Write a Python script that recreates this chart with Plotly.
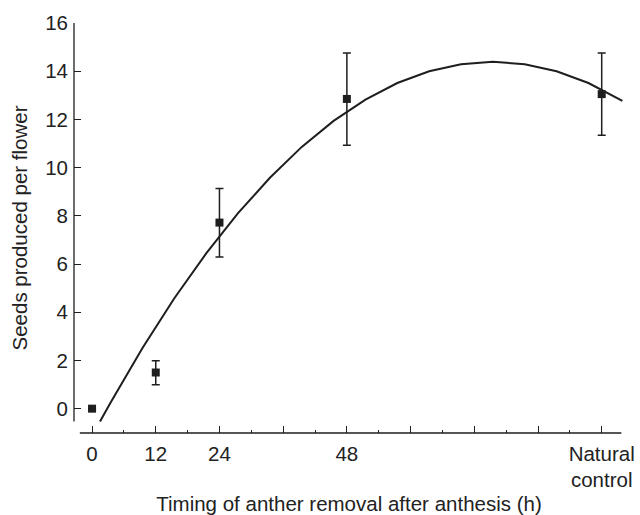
import plotly.graph_objects as go

# Data
x_pts = [0, 12, 24, 48, 96]
y_pts = [0.0, 1.5, 7.72, 12.85, 13.05]
err_up = [0.0, 0.49, 1.41, 1.91, 1.71]
err_dn = [0.0, 0.51, 1.43, 1.92, 1.71]

curve_x = [1.5, 3.5, 9.5, 15.5, 21.5, 27.5, 33.5, 39.5, 45.5, 51.5, 57.5,
           63.5, 69.5, 75.5, 81.5, 87.5, 93.5, 99.9]
curve_y = [-0.53, 0.26, 2.52, 4.58, 6.44, 8.11, 9.58, 10.86, 11.94, 12.82,
           13.51, 14.00, 14.29, 14.39, 14.29, 14.00, 13.51, 12.77]

x_tickvals = [0, 12, 24, 36, 48, 60, 72, 84, 96]
x_ticktext = ["0", "12", "24", "", "48", "", "", "", "Natural<br>control"]
y_tickvals = [0, 2, 4, 6, 8, 10, 12, 14, 16]

INK = "#1e1e1e"
FONT = "Liberation Sans, Arial, sans-serif"
FS = 20.5

fig = go.Figure()
fig.add_trace(go.Scatter(
    x=curve_x, y=curve_y, mode="lines",
    line=dict(color=INK, width=2), hoverinfo="skip", showlegend=False))
fig.add_trace(go.Scatter(
    x=x_pts, y=y_pts, mode="markers",
    marker=dict(symbol="square", size=8, color=INK),
    error_y=dict(type="data", symmetric=False, array=err_up, arrayminus=err_dn,
                 color=INK, thickness=1.5, width=4),
    showlegend=False))

fig.update_layout(
    width=640, height=515,
    margin=dict(l=74, r=16, t=23, b=82, autoexpand=False),
    plot_bgcolor="white", paper_bgcolor="white",
    font=dict(family=FONT, size=FS, color="#222"),
    xaxis=dict(
        range=[-3.4, 100.2], showgrid=False, zeroline=False, showline=False,
        automargin=False, ticklabeloverflow="allow",
        tickmode="array", tickvals=x_tickvals, ticktext=x_ticktext,
        ticks="inside", ticklen=7, tickwidth=1.3, tickcolor=INK,
        ticklabelstandoff=6,
        minor=dict(tick0=0, dtick=6, ticks="inside", ticklen=3.5,
                   tickwidth=1.3, tickcolor=INK),
        title=dict(text="Timing of anther removal after anthesis (h)",
                   standoff=16, font=dict(size=FS)),
    ),
    yaxis=dict(
        range=[-1.01, 16], showgrid=False, zeroline=False, showline=False,
        automargin=False,
        tickmode="array", tickvals=y_tickvals,
        ticks="inside", ticklen=7, tickwidth=1.3, tickcolor=INK,
        ticklabelstandoff=5,
        title=dict(text="Seeds produced per flower", standoff=12,
                   font=dict(size=FS)),
    ),
    shapes=[
        dict(type="line", xref="paper", yref="y", x0=0, x1=0, y0=-0.53, y1=16,
             line=dict(color=INK, width=1.3)),
        dict(type="line", xref="x", yref="paper", x0=-2.3, x1=99.7, y0=0, y1=0,
             line=dict(color=INK, width=1.3)),
    ],
)

fig.write_html(
    "out.html",
    config={"displayModeBar": False},
    post_script="document.body.style.margin='0';"
                "document.documentElement.style.overflow='hidden';",
)
